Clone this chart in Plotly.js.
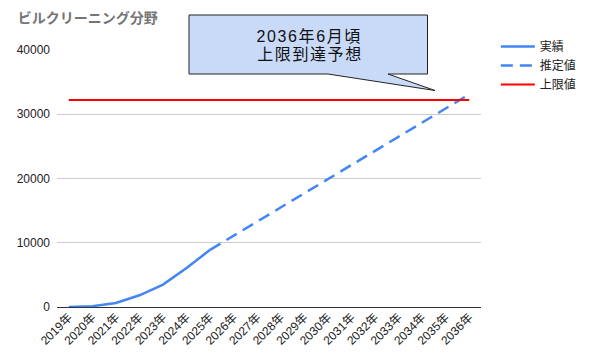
<!DOCTYPE html>
<html>
<head>
<meta charset="utf-8">
<script src="https://cdn.plot.ly/plotly-3.0.1.min.js"></script>
<style>
html,body{margin:0;padding:0;background:#fff;}
#chart{width:594px;height:355px;}
#chart .annotation-text{letter-spacing:1.6px;}
</style>
</head>
<body>
<div id="chart"></div>
<script>
const years = ["2019年","2020年","2021年","2022年","2023年","2024年","2025年","2026年","2027年","2028年","2029年","2030年","2031年","2032年","2033年","2034年","2035年","2036年"];
const actualYears = ["2019年","2020年","2021年","2022年","2023年","2024年","2025年"];
const actualValues = [0, 120, 620, 1820, 3480, 6080, 8900];
const estimateYears = ["2025年","2026年","2027年","2028年","2029年","2030年","2031年","2032年","2033年","2034年","2035年","2036年"];
const estimateValues = [8900, 11100, 13300, 15500, 17700, 19900, 22100, 24300, 26500, 28700, 30900, 33100];
const limitValue = 32200;
const limitValues = years.map(() => limitValue);
const yTicks = [0, 10000, 20000, 30000, 40000];
const titleText = "ビルクリーニング分野";
const calloutLines = ["2036年6月頃", "上限到達予想"];

const FONT = "Liberation Sans, Arial, Noto Sans CJK JP, sans-serif";

const traces = [
  {x: actualYears, y: actualValues, name: "実績", type: "scatter", mode: "lines",
   line: {color: "#4285f4", width: 2.5}},
  {x: estimateYears, y: estimateValues, name: "推定値", type: "scatter", mode: "lines",
   line: {color: "#4285f4", width: 2.5, dash: "12px,7px"}},
  {x: years, y: limitValues, name: "上限値", type: "scatter", mode: "lines",
   line: {color: "#ff0000", width: 2}}
];

// pixel -> paper helpers (plot area: l=57, r=481, t=50, b=307)
const L = 57, R = 481, T = 50, B = 307;
const px = v => (v - L) / (R - L);
const py = v => (B - v) / (B - T);
const calloutPath = "M " + px(189) + "," + py(15) +
  " L " + px(427.5) + "," + py(15) +
  " L " + px(427.5) + "," + py(74) +
  " L " + px(388) + "," + py(74) +
  " L " + px(435) + "," + py(90.5) +
  " L " + px(328) + "," + py(74) +
  " L " + px(189) + "," + py(74) + " Z";

const layout = {
  width: 594, height: 355,
  margin: {l: L, r: 594 - R, t: T, b: 355 - B, pad: 0},
  paper_bgcolor: "#fff", plot_bgcolor: "#fff",
  font: {family: FONT, size: 12, color: "#222"},
  title: {text: "<b>" + titleText + "</b>", font: {family: FONT, size: 14, color: "#757575"},
          xref: "container", yref: "container", x: 0.03, xanchor: "left", y: 0.95, yanchor: "middle"},
  showlegend: true,
  legend: {x: 1.035, xanchor: "left", y: 1.07, yanchor: "top", font: {family: FONT, size: 12, color: "#222"},
           tracegroupgap: 0, itemwidth: 34, bgcolor: "rgba(0,0,0,0)"},
  hovermode: false,
  xaxis: {type: "category", categoryorder: "array", categoryarray: years, range: [-0.5, years.length - 0.5],
          tickangle: -45, showgrid: false, showline: false, ticks: "", tickfont: {family: FONT, size: 12, color: "#222"},
          zeroline: false, fixedrange: true},
  yaxis: {range: [0, 40000], tickvals: yTicks, ticktext: yTicks.map(String), showgrid: true, gridcolor: "#cccccc",
          zeroline: true, zerolinecolor: "#333", zerolinewidth: 1, showline: false, ticks: "",
          tickfont: {family: FONT, size: 12, color: "#222"}, ticklabelstandoff: 6, fixedrange: true},
  shapes: [
    {type: "path", xref: "paper", yref: "paper", path: calloutPath, fillcolor: "#c9daf8",
     line: {color: "#222", width: 1}, layer: "above"}
  ],
  annotations: [
    {xref: "paper", yref: "paper", x: px(309.5), y: py(36.5), text: calloutLines[0], showarrow: false,
     font: {family: FONT, size: 16, color: "#111"}, xanchor: "center", yanchor: "middle"},
    {xref: "paper", yref: "paper", x: px(309.5), y: py(54.5), text: calloutLines[1], showarrow: false,
     font: {family: FONT, size: 16, color: "#111"}, xanchor: "center", yanchor: "middle"}
  ]
};

Plotly.newPlot("chart", traces, layout, {displayModeBar: false, staticPlot: true});
</script>
</body>
</html>
